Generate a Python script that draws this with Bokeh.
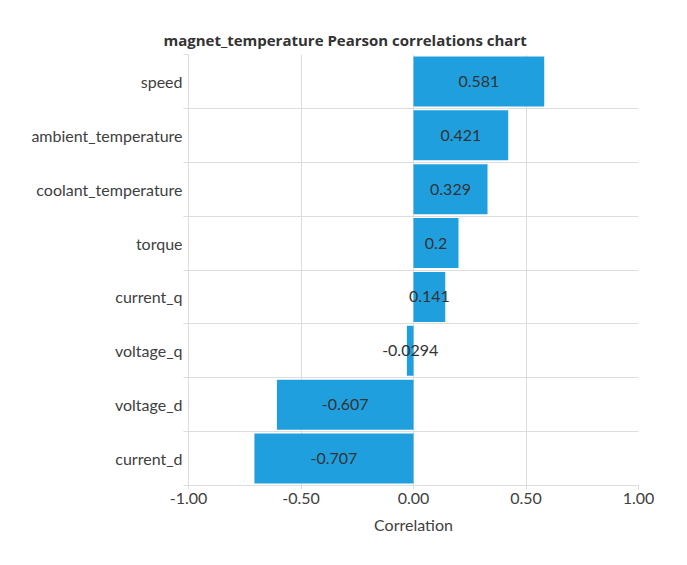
from bokeh.plotting import figure
from bokeh.models import ColumnDataSource, FixedTicker, NumeralTickFormatter, Range1d
from bokeh.core.properties import value
from bokeh.embed import file_html
from bokeh.resources import INLINE

# features ordered top to bottom, as in the chart
features = ["speed", "ambient_temperature", "coolant_temperature", "torque",
            "current_q", "voltage_q", "voltage_d", "current_d"]
correlations = [0.581, 0.421, 0.329, 0.2, 0.141, -0.0294, -0.607, -0.707]
x_ticks = [-1.0, -0.5, 0.0, 0.5, 1.0]

FONT = "Lato"
FSIZE = "16px"
GRID = "#dddddd"
TEXT = "#404040"

n = len(features)
ypos = [n - i - 0.5 for i in range(n)]

cds = ColumnDataSource(dict(
    feature=features,
    corr=correlations,
    y=ypos,
    mid=[c / 2 for c in correlations],
    label=[str(c) for c in correlations],
))

p = figure(width=671, height=549, output_backend="svg", toolbar_location=None,
           x_range=Range1d(-1, 1), y_range=Range1d(0, n),
           min_border_left=188, min_border_right=33,
           min_border_top=54, min_border_bottom=64,
           title="magnet_temperature Pearson correlations chart")

p.hbar(y="y", left=0, right="corr", height=0.93, source=cds,
       fill_color="#209fdf", line_color=None)
p.text(x="mid", y="y", text="label", source=cds, text_align="center",
       text_baseline="middle", text_font=value(FONT), text_font_size=FSIZE,
       text_color="#333333")

p.title.align = "left"
p.title.offset = -25
p.title.text_font = "Open Sans"
p.title.text_font_size = "15px"
p.title.text_font_style = "bold"
p.title.text_color = "#333333"

p.outline_line_color = None

# x axis
p.xaxis.ticker = FixedTicker(ticks=x_ticks)
p.xaxis.formatter = NumeralTickFormatter(format="0.00")
p.xaxis.axis_label = "Correlation"
p.xaxis.axis_label_text_font = FONT
p.xaxis.axis_label_text_font_size = FSIZE
p.xaxis.axis_label_text_font_style = "normal"
p.xaxis.axis_label_text_color = TEXT
p.xaxis.axis_label_standoff = 8
p.xaxis.major_label_text_font = FONT
p.xaxis.major_label_text_font_size = FSIZE
p.xaxis.major_label_text_color = TEXT
p.xaxis.major_label_standoff = 3
p.xaxis.axis_line_color = GRID
p.xaxis.major_tick_line_color = GRID
p.xaxis.major_tick_out = 4
p.xaxis.major_tick_in = 0
p.xaxis.minor_tick_line_color = None
p.xgrid.grid_line_color = GRID

# y axis: labels at row centres, ticks/grid at row boundaries
p.yaxis.ticker = FixedTicker(ticks=ypos, minor_ticks=list(range(n + 1)))
p.yaxis.major_label_overrides = {y: f for y, f in zip(ypos, features)}
p.yaxis.major_label_text_font = FONT
p.yaxis.major_label_text_font_size = FSIZE
p.yaxis.major_label_text_color = TEXT
p.yaxis.major_tick_line_color = None
p.yaxis.major_tick_out = 0
p.yaxis.major_tick_in = 0
p.yaxis.major_label_standoff = 1
p.yaxis.minor_tick_line_color = GRID
p.yaxis.minor_tick_out = 5
p.yaxis.minor_tick_in = 0
p.yaxis.axis_line_color = GRID
p.ygrid.grid_line_color = None
p.ygrid.minor_grid_line_color = GRID

open("out.html", "w").write(file_html(p, INLINE))
